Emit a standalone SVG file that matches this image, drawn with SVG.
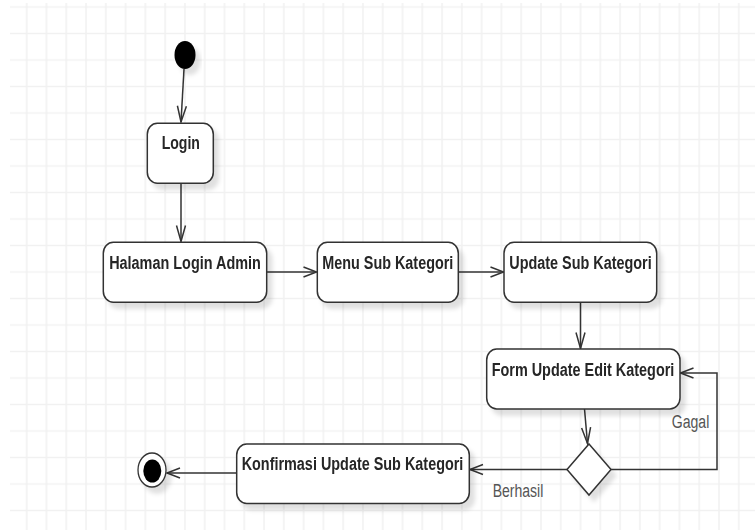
<svg xmlns="http://www.w3.org/2000/svg" width="755" height="530" viewBox="0 0 755 530">
  <style>
    .box { fill: #ffffff; stroke: #333333; stroke-width: 1.5; }
    .lbl { font-family: "Liberation Sans", Arial, sans-serif; font-weight: bold; font-size: 18px; fill: #262626; text-anchor: middle; }
    .note { font-family: "Liberation Sans", Arial, sans-serif; font-size: 18px; fill: #555555; text-anchor: middle; }
    .edge { fill: none; stroke: #333333; stroke-width: 1.5; }
  </style>
  <defs>
    <pattern id="grid" patternUnits="userSpaceOnUse" x="16.81" y="-6.25" width="19.78" height="26.5">
      <path d="M9.89 0 V26.5 M0 13.25 H19.78" fill="none" stroke="#f1f1f1" stroke-width="1.5"/>
    </pattern>
    <filter id="shadow" x="-20%" y="-20%" width="150%" height="160%">
      <feDropShadow dx="5" dy="6" stdDeviation="2" flood-color="#000000" flood-opacity="0.12"/>
    </filter>
    <!-- open arrowheads: horizontal and vertical proportions -->
    <marker id="arrH" markerUnits="userSpaceOnUse" orient="auto" markerWidth="1" markerHeight="1" refX="0" refY="0" style="overflow:visible">
      <path d="M-13 -5 L0 0 L-13 5" fill="none" stroke="#333333" stroke-width="1.5"/>
    </marker>
    <marker id="arrV" markerUnits="userSpaceOnUse" orient="auto" markerWidth="1" markerHeight="1" refX="0" refY="0" style="overflow:visible">
      <path d="M-16 -4.5 L0 0 L-16 4.5" fill="none" stroke="#333333" stroke-width="1.5"/>
    </marker>
  </defs>

  <!-- background and grid -->
  <rect x="0" y="0" width="755" height="530" fill="#ffffff"/>
  <rect x="10" y="3" width="745" height="527" fill="url(#grid)"/>

  <!-- connectors -->
  <g id="connectors">
    <path class="edge" d="M184 69 L181 122" marker-end="url(#arrV)"/>
    <path class="edge" d="M181 183 L181 241.5" marker-end="url(#arrV)"/>
    <path class="edge" d="M266.7 272 H316.5" marker-end="url(#arrH)"/>
    <path class="edge" d="M458.3 272 H503.5" marker-end="url(#arrH)"/>
    <path class="edge" d="M580.5 302 V348.5" marker-end="url(#arrV)"/>
    <path class="edge" d="M584.5 409 L587.5 443.5" marker-end="url(#arrV)"/>
    <path class="edge" d="M567 469.5 H470" marker-end="url(#arrH)"/>
    <path class="edge" d="M611 469.5 H717 V373 H680.5" marker-end="url(#arrH)"/>
    <path class="edge" d="M236.7 473 H167" marker-end="url(#arrH)"/>
    <text class="note" x="690.5" y="428" textLength="37.6" lengthAdjust="spacingAndGlyphs">Gagal</text>
    <text class="note" x="518" y="497.3" textLength="50.7" lengthAdjust="spacingAndGlyphs">Berhasil</text>
  </g>

  <!-- initial node -->
  <g id="start" filter="url(#shadow)">
    <ellipse cx="185" cy="55" rx="10.5" ry="14" fill="#000000"/>
  </g>

  <g id="login" filter="url(#shadow)">
    <rect class="box" x="147.3" y="123.3" width="66" height="60" rx="10" ry="11"/>
    <text class="lbl" x="180.8" y="148.5" textLength="38.3" lengthAdjust="spacingAndGlyphs">Login</text>
  </g>

  <g id="halaman-login-admin" filter="url(#shadow)">
    <rect class="box" x="103.3" y="242.3" width="163.4" height="60" rx="10" ry="11"/>
    <text class="lbl" x="185" y="268.5" textLength="151.7" lengthAdjust="spacingAndGlyphs">Halaman Login Admin</text>
  </g>

  <g id="menu-sub-kategori" filter="url(#shadow)">
    <rect class="box" x="317.3" y="242.3" width="141" height="60" rx="10" ry="11"/>
    <text class="lbl" x="387.8" y="268.5" textLength="131" lengthAdjust="spacingAndGlyphs">Menu Sub Kategori</text>
  </g>

  <g id="update-sub-kategori" filter="url(#shadow)">
    <rect class="box" x="504" y="242.3" width="152.7" height="60" rx="10" ry="11"/>
    <text class="lbl" x="580.5" y="268.5" textLength="142.3" lengthAdjust="spacingAndGlyphs">Update Sub Kategori</text>
  </g>

  <g id="form-update-edit-kategori" filter="url(#shadow)">
    <rect class="box" x="486.7" y="349" width="193.3" height="60" rx="10" ry="11"/>
    <text class="lbl" x="583" y="375.7" textLength="182.7" lengthAdjust="spacingAndGlyphs">Form Update Edit Kategori</text>
  </g>

  <!-- decision -->
  <g id="decision" filter="url(#shadow)">
    <polygon class="box" points="589,444 611,469.5 589,495 567,469.5"/>
  </g>

  <g id="konfirmasi-update-sub-kategori" filter="url(#shadow)">
    <rect class="box" x="236.7" y="444" width="232.6" height="59.5" rx="10" ry="11"/>
    <text class="lbl" x="352.5" y="470.2" textLength="221.7" lengthAdjust="spacingAndGlyphs">Konfirmasi Update Sub Kategori</text>
  </g>

  <!-- final node -->
  <g id="end" filter="url(#shadow)">
    <ellipse cx="152" cy="470" rx="14" ry="17" fill="#ffffff" stroke="#333333" stroke-width="1.3"/>
    <ellipse cx="152.3" cy="471" rx="9" ry="11.5" fill="#000000"/>
  </g>
</svg>
